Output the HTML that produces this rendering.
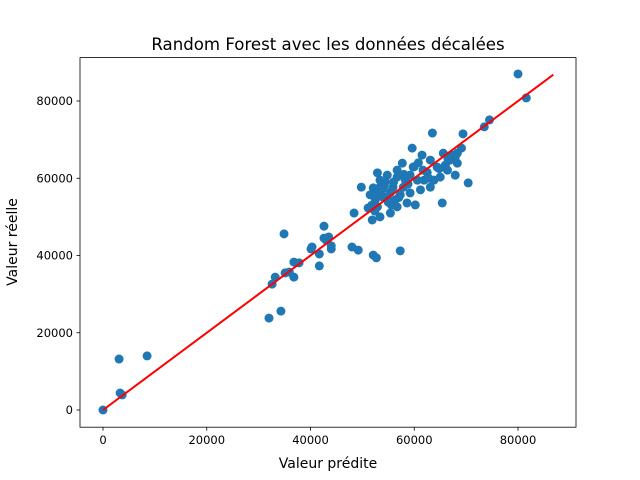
<!DOCTYPE html>
<html><head><meta charset="utf-8"><style>
body{margin:0;background:#fff}
svg{display:block;font-family:"DejaVu Sans","Liberation Sans",sans-serif}
</style></head><body>
<svg id="chart" width="640" height="480" viewBox="0 0 640 480">
<rect width="640" height="480" fill="#fff"/>
<text x="328" y="50" text-anchor="middle" font-size="16.6">Random Forest avec les données décalées</text>
<g id="marks"></g>
<g id="axes"></g>
<text x="328" y="468" text-anchor="middle" font-size="14">Valeur prédite</text>
<text transform="translate(17,242) rotate(-90)" text-anchor="middle" font-size="14">Valeur réelle</text>
</svg>
<script>
const predicted = [0,3.1,3.3,3.7,8.5,32.0,32.6,33.2,34.3,34.9,35.1,35.9,36.8,36.8,37.8,40.1,40.3,41.7,41.7,42.6,42.6,43.0,43.5,44.0,44.0,48.0,48.4,49.2,52.1,52.7,57.3,49.8,63.5,69.4,73.5,59.6,61.5,57.7,52.9,54.8,52.1,56.7,59.8,63.1,65.6,68.3,68.3,66.4,65.0,63.1,70.4,60.6,59.2,60.2,58.6,65.4,56.7,55.4,53.4,51.9,51.1,54.0,55.9,57.9,53.4,54.8,52.9,61.7,64.4,56.7,54.4,55.4,56.3,52.5,51.5,57.3,58.3,61.2,66.9,67.9,69.1,67.9,66.0,80.0,81.6,74.5,53.4,55.6,59.2,61.9,53.0,54.2,55.0,56.0,57.0,58.0,60.0,62.5,63.8,64.8,66.5,52.4,51.8,53.8,55.8,58.8,60.8,62.8,67.2].map(v=>v*1000);
const actual = [0,13.2,4.4,3.9,14.0,23.8,32.6,34.4,25.6,45.6,35.5,35.7,38.3,34.4,38.1,41.7,42.2,37.3,40.4,44.5,47.6,44.0,44.8,42.5,41.7,42.2,51.0,41.4,40.1,39.4,41.2,57.7,71.7,71.5,73.3,67.8,66.0,63.9,61.4,60.8,57.5,60.3,62.9,64.7,66.5,66.5,63.9,62.1,60.3,57.7,58.8,59.5,56.2,53.1,53.6,53.6,52.6,51.0,50.0,49.2,52.3,55.1,57.7,57.7,57.7,55.1,52.6,62.1,62.9,62.1,59.0,56.4,54.4,54.4,55.7,55.7,59.5,57.0,64.7,60.8,67.8,65.5,63.4,87.0,80.8,75.1,59.5,53.1,60.8,59.5,56.0,58.0,53.8,59.0,55.0,61.0,63.0,61.5,59.5,62.5,65.0,51.5,53.0,57.0,54.0,58.5,64.0,60.0,66.0].map(v=>v*1000);
const xTicks = [0,20000,40000,60000,80000];
const yTicks = [0,20000,40000,60000,80000];
const lineRange = [0,86800];

const L=80,R=576,T=57.6,B=427.2;
const xs=v=>103+v*0.0051875;
const ys=v=>410-v*0.0038625;
const NS="http://www.w3.org/2000/svg";
const marks=document.getElementById('marks'), axes=document.getElementById('axes');
function mk(tag,attrs,parent){const e=document.createElementNS(NS,tag);for(const k in attrs)e.setAttribute(k,attrs[k]);parent.appendChild(e);return e;}
predicted.forEach((p,i)=>{
  const c=mk('circle',{cx:xs(p),cy:ys(actual[i]),r:4.5,fill:'#1f77b4'},marks);
  
  
});
const ln=mk('line',{x1:xs(lineRange[0]),y1:ys(lineRange[0]),x2:xs(lineRange[1]),y2:ys(lineRange[1]),stroke:'red','stroke-width':2},marks);


const frame=mk('rect',{x:L,y:T,width:R-L,height:B-T,fill:'none',stroke:'#000','stroke-width':0.8},axes);


xTicks.forEach(t=>{
  const x=xs(t);
  const tk=mk('line',{x1:x,y1:B,x2:x,y2:B+3.5,stroke:'#000','stroke-width':0.8},axes);
  
  
  const tx=mk('text',{x:x,y:B+17,'text-anchor':'middle','font-size':11.5},axes);
  tx.textContent=t;
  
  
});
yTicks.forEach(t=>{
  const y=ys(t);
  const tk=mk('line',{x1:L-3.5,y1:y,x2:L,y2:y,stroke:'#000','stroke-width':0.8},axes);
  
  
  const tx=mk('text',{x:L-7,y:y+4,'text-anchor':'end','font-size':11.5},axes);
  tx.textContent=t;
  
  
});
</script>
</body></html>
